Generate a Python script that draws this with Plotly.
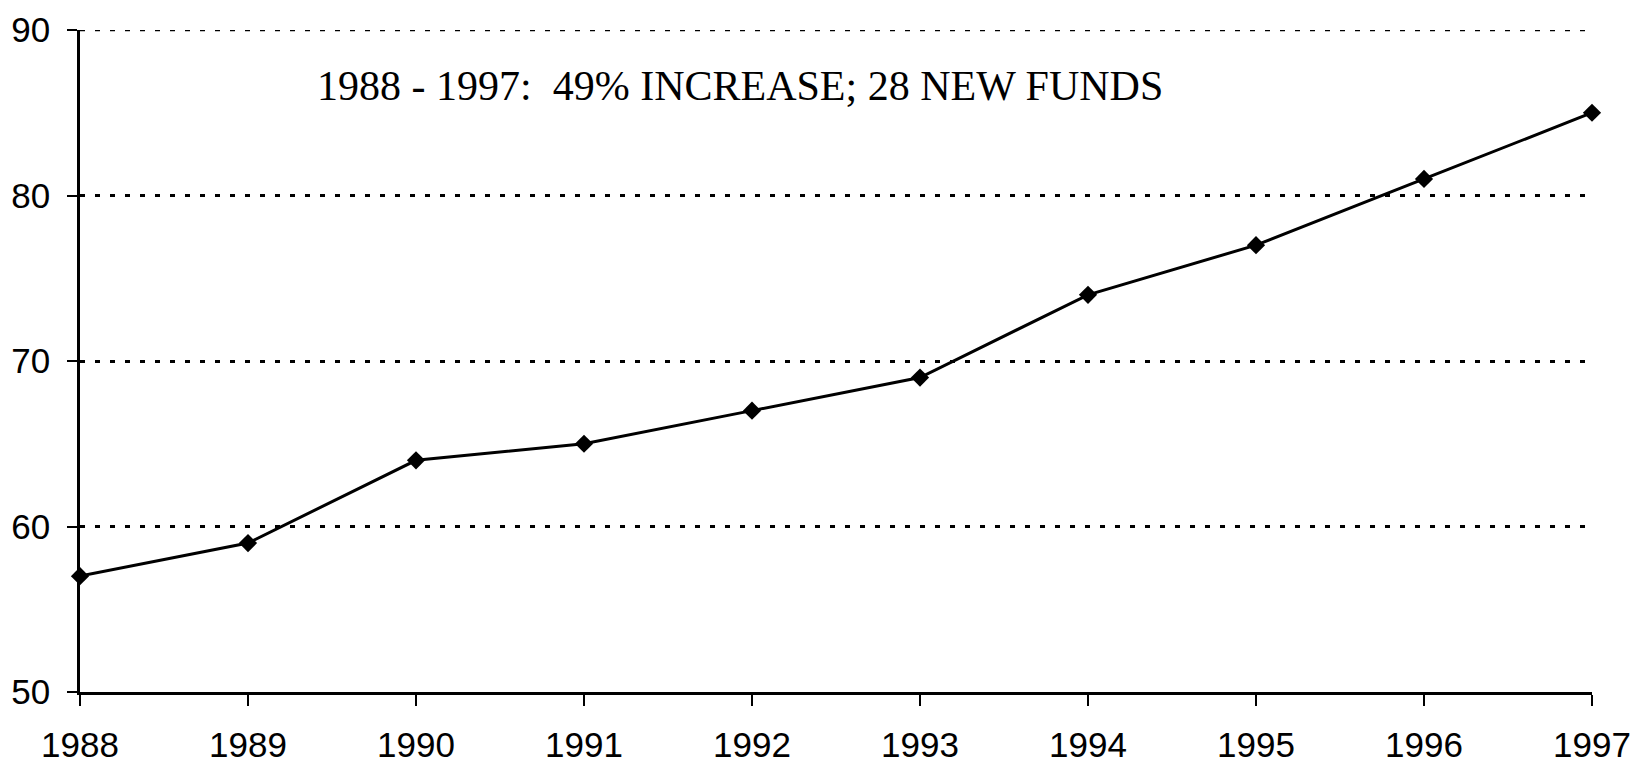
import plotly.graph_objects as go

years = [1988, 1989, 1990, 1991, 1992, 1993, 1994, 1995, 1996, 1997]
funds = [57, 59, 64, 65, 67, 69, 74, 77, 81, 85]
y_ticks = [50, 60, 70, 80, 90]
note = "1988 - 1997: \u00a049% INCREASE; 28 NEW FUNDS"

fig = go.Figure()
fig.add_trace(go.Scatter(
    x=years, y=funds, mode="lines+markers",
    line=dict(color="black", width=3),
    marker=dict(symbol="diamond", size=14, color="black"),
    cliponaxis=False, showlegend=False,
))

fig.update_layout(
    width=1639, height=767,
    margin=dict(l=80, r=47, t=30, b=75, autoexpand=False),
    plot_bgcolor="white", paper_bgcolor="white",
    font=dict(family="Liberation Sans, Arial, sans-serif", color="black", size=35),
    xaxis=dict(
        range=[years[0], years[-1]], tickvals=years, ticktext=[str(y) for y in years],
        showgrid=False, zeroline=False, automargin=False,
        showline=True, linecolor="black", linewidth=2.5,
        ticks="outside", ticklen=11, tickwidth=2, tickcolor="black",
        tickfont=dict(size=35), ticklabelstandoff=9,
    ),
    yaxis=dict(
        range=[50, 90], tickvals=y_ticks,
        showgrid=True, gridcolor="black", gridwidth=2.5, griddash="5px,10px",
        zeroline=False, automargin=False,
        showline=True, linecolor="black", linewidth=2.5,
        ticks="outside", ticklen=10, tickwidth=2, tickcolor="black",
        tickfont=dict(size=35), ticklabelstandoff=10,
    ),
    shapes=[dict(
        type="line", xref="paper", yref="y", x0=0, x1=1, y0=y_ticks[-1], y1=y_ticks[-1],
        line=dict(color="black", width=2.5, dash="5px,10px"), layer="below",
    )],
    annotations=[dict(
        text=note, xref="paper", yref="paper", x=0.4365, y=0.915,
        xanchor="center", yanchor="middle", showarrow=False,
        font=dict(family="Liberation Serif, Times New Roman, serif", size=42, color="black"),
    )],
)

fig.write_html(
    "out.html",
    config={"displayModeBar": False},
    post_script="document.body.style.margin='0px'; document.body.style.overflow='hidden';",
)
